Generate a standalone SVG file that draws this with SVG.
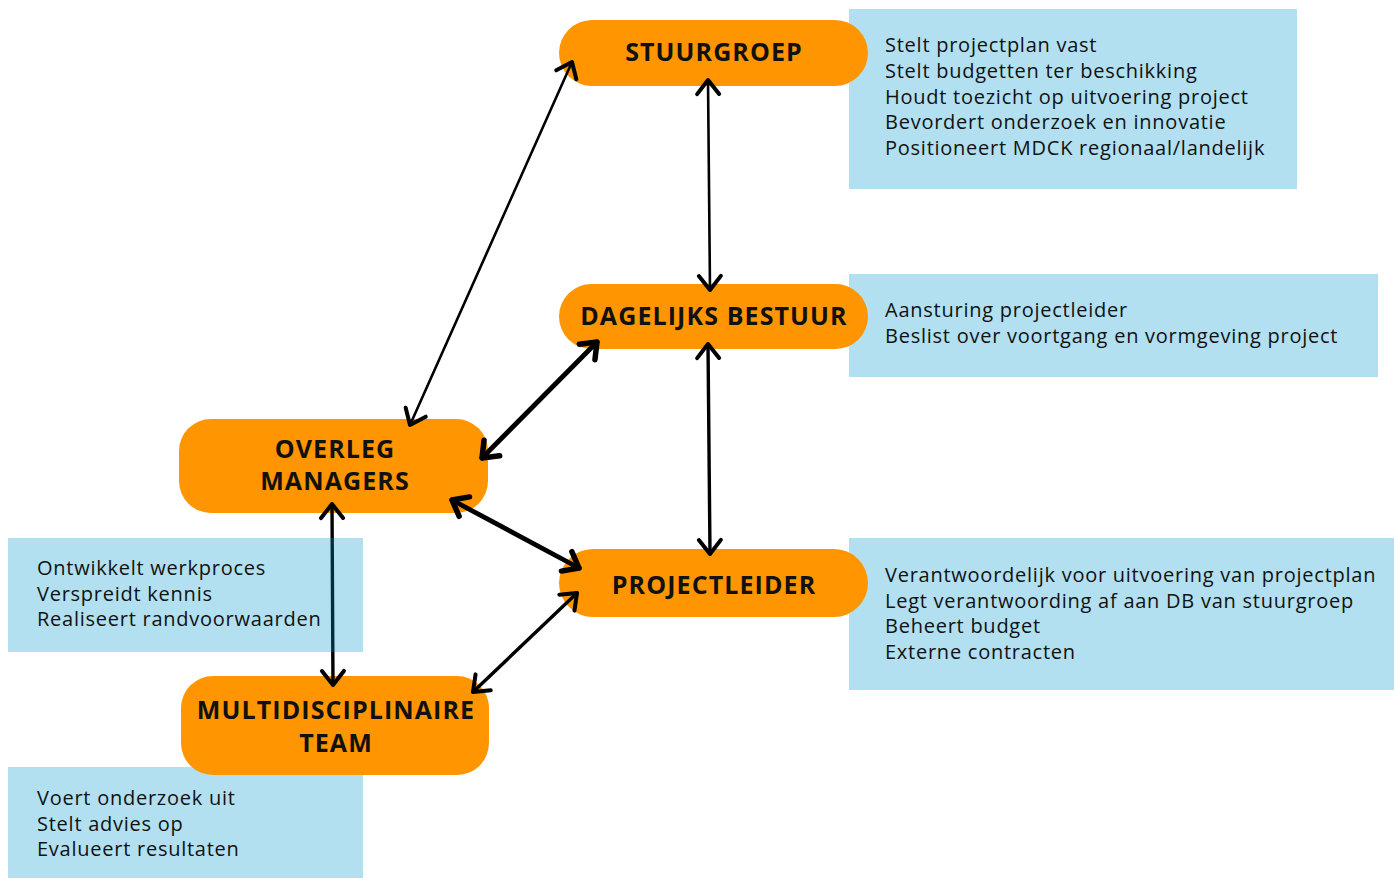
<svg xmlns="http://www.w3.org/2000/svg" width="1394" height="878" viewBox="0 0 1394 878">
<style>
.info rect{fill:#0099ce;fill-opacity:0.3}
.info text{font-family:"Open Sans","Liberation Sans",sans-serif;font-size:20px;letter-spacing:0.75px;fill:#111}
.node rect{fill:#ff9500}
.node text{font-family:"Open Sans","Liberation Sans",sans-serif;font-size:25px;font-weight:700;letter-spacing:1.1px;fill:#111;text-anchor:middle}
.conn{fill:none;stroke:#000;stroke-linecap:round}
.thin{stroke-width:2.6;marker-start:url(#h3);marker-end:url(#h3)}
.mid{stroke-width:3.4;marker-start:url(#h3);marker-end:url(#h3)}
.thick{stroke-width:4.8;marker-start:url(#h5);marker-end:url(#h5)}
</style>
<defs>
<marker id="h3" viewBox="-20 -16 24 32" refX="0" refY="0" markerWidth="24" markerHeight="32" markerUnits="userSpaceOnUse" orient="auto-start-reverse" overflow="visible"><path d="M-14,-11 L0,0 L-14,11" fill="none" stroke="#000" stroke-width="4" stroke-linecap="round" stroke-linejoin="round"/></marker>
<marker id="h5" viewBox="-20 -16 24 32" refX="0" refY="0" markerWidth="24" markerHeight="32" markerUnits="userSpaceOnUse" orient="auto-start-reverse" overflow="visible"><path d="M-14,-11 L0,0 L-14,11" fill="none" stroke="#000" stroke-width="5.5" stroke-linecap="round" stroke-linejoin="round"/></marker>
</defs>
<rect width="1394" height="878" fill="#fff"/>

<g id="info-stuurgroep" class="info">
<rect x="849" y="9" width="448" height="180"/>
<text x="885" y="52">Stelt projectplan vast</text>
<text x="885" y="78">Stelt budgetten ter beschikking</text>
<text x="885" y="104">Houdt toezicht op uitvoering project</text>
<text x="885" y="129">Bevordert onderzoek en innovatie</text>
<text x="885" y="155">Positioneert MDCK regionaal/landelijk</text>
</g>
<g id="info-dagelijks" class="info">
<rect x="849" y="274" width="529" height="103"/>
<text x="885" y="317">Aansturing projectleider</text>
<text x="885" y="343">Beslist over voortgang en vormgeving project</text>
</g>
<g id="info-projectleider" class="info">
<rect x="849" y="538" width="545" height="152"/>
<text x="885" y="582">Verantwoordelijk voor uitvoering van projectplan</text>
<text x="885" y="608">Legt verantwoording af aan DB van stuurgroep</text>
<text x="885" y="633">Beheert budget</text>
<text x="885" y="659">Externe contracten</text>
</g>
<g id="info-team" class="info">
<rect x="8" y="767" width="355" height="111"/>
<text x="37" y="805">Voert onderzoek uit</text>
<text x="37" y="831">Stelt advies op</text>
<text x="37" y="856">Evalueert resultaten</text>
</g>

<g id="node-stuurgroep" class="node">
<rect x="559" y="20" width="309" height="66" rx="33"/>
<text x="714" y="61">STUURGROEP</text>
</g>
<g id="node-dagelijks" class="node">
<rect x="559" y="284" width="309" height="65" rx="32.5"/>
<text x="714" y="325">DAGELIJKS BESTUUR</text>
</g>
<g id="node-overleg" class="node">
<rect x="179" y="419" width="309" height="94" rx="32"/>
<text x="335" y="458">OVERLEG</text>
<text x="335" y="490">MANAGERS</text>
</g>
<g id="node-projectleider" class="node">
<rect x="559" y="549" width="309" height="68" rx="34"/>
<text x="714" y="594">PROJECTLEIDER</text>
</g>
<g id="node-team" class="node">
<rect x="181" y="676" width="308" height="99" rx="32"/>
<text x="336" y="719">MULTIDISCIPLINAIRE</text>
<text x="336" y="752">TEAM</text>
</g>

<g id="connectors">
<path class="conn thin" d="M572,62 L410,425"/>
<path class="conn thin" d="M708,80 L710,290"/>
<path class="conn thick" d="M597,342 L482,458"/>
<path class="conn mid" d="M708,344 L710,554"/>
<path class="conn thick" d="M452,500 L579,568"/>
<path class="conn mid" d="M577,593 L473,692"/>
<path class="conn mid" d="M332,504 L333,685"/>
</g>

<g id="info-overleg" class="info">
<rect x="8" y="538" width="355" height="114"/>
<text x="37" y="575">Ontwikkelt werkproces</text>
<text x="37" y="601">Verspreidt kennis</text>
<text x="37" y="626">Realiseert randvoorwaarden</text>
</g>
</svg>
